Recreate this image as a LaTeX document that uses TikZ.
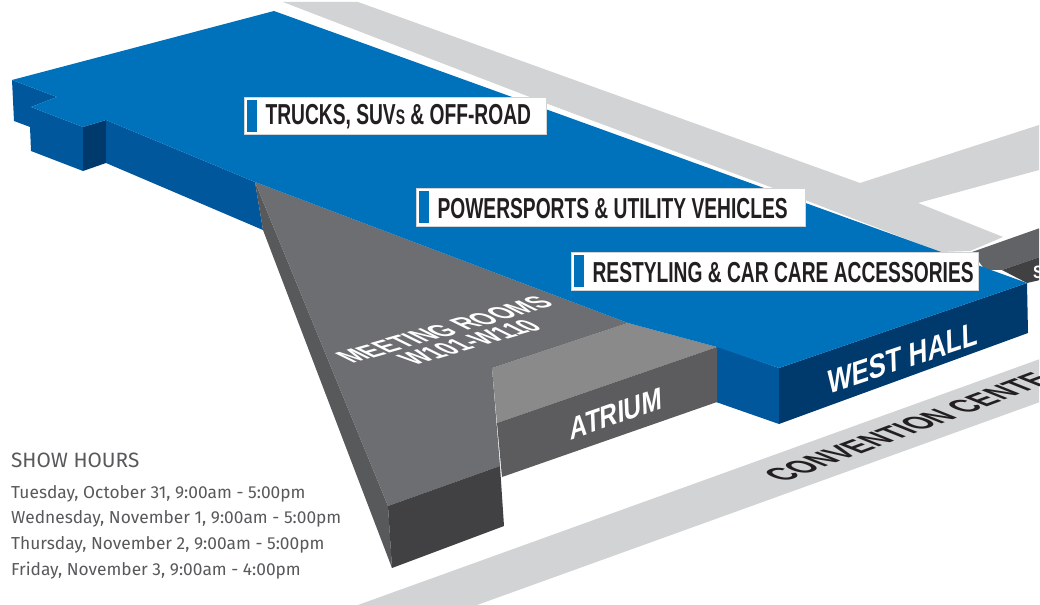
\documentclass[tikz,border=0pt]{standalone}
\usepackage{fontspec}
\usetikzlibrary{positioning}
\setmainfont{Liberation Sans}
\newfontfamily\tagfont[FakeStretch=0.665]{Liberation Sans Bold}
\newfontfamily\hallfont[FakeStretch=0.85]{Liberation Sans Bold}
\newfontfamily\hoursfont{Fira Sans}
\definecolor{HallBlue}{HTML}{0072BC}
\definecolor{HallSide}{HTML}{00579C}
\definecolor{HallDark}{HTML}{00396C}
\definecolor{RoadGrey}{HTML}{D1D3D4}
\definecolor{RoomTop}{HTML}{6D6E71}
\definecolor{RoomLeft}{HTML}{58595B}
\definecolor{RoomFront}{HTML}{414042}
\definecolor{AtriumTop}{HTML}{8A8A8B}
\definecolor{AtriumFront}{HTML}{5C5C5E}
\definecolor{TagInk}{HTML}{231F20}
\definecolor{HoursInk}{HTML}{58595B}
\tikzset{
  tagbox/.style={fill=white,draw=RoadGrey,line width=0.4pt,anchor=north west,inner sep=0pt},
  tagmark/.style={fill=HallBlue,anchor=west,minimum width=10,minimum height=32,inner sep=0pt},
  tagtext/.style={text=TagInk,anchor=west,inner sep=0pt,yshift=-1,font=\tagfont\fontsize{29}{29}\selectfont},
  halllabel/.style={text=white,inner sep=0pt,font=\hallfont\fontsize{32}{32}\selectfont},
  floorlabel/.style={text=white,inner sep=0pt,align=center,font=\hallfont\fontsize{21}{19}\selectfont},
}
\begin{document}
\begin{tikzpicture}[x=1bp,y=-1bp]
  \useasboundingbox (0,0) rectangle (1040,605);
  \fill[white] (0,0) rectangle (1040,605);
  \clip (0,0) rectangle (1039,605);
  \fill[RoadGrey] (283,2) -- (358,2) -- (860,183) -- (1039,125) -- (1039,170) -- (918,203)
    -- (1003,237) -- (970,251) -- (940,252) -- (800,198) -- (548,104) -- cycle;
  \fill[RoadGrey] (358,605) -- (1040,359) -- (1040,402) -- (477,605) -- cycle;
  \fill[RoomTop!90!black] (972,252) -- (1040,228) -- (1040,257) -- (1002,270) -- (985,270) -- cycle;
  \fill[RoomFront] (1002,270) -- (1040,257) -- (1040,280) -- (1027,283) -- cycle;
  \fill[HallSide] (12,80) -- (57,97) -- (31,107) -- (83,127) -- (83,171) -- (31,151)
    -- (30,127) -- (14,121) -- cycle;
  \fill[HallDark] (83,127) -- (106,120) -- (106,163) -- (83,171) -- cycle;
  \fill[HallSide] (106,120) -- (255,182) -- (263,230) -- (106,163) -- cycle;
  \fill[HallSide] (716,346) -- (779,368) -- (779,424) -- (716,402) -- cycle;
  \fill[HallDark] (779,368) -- (1027,283) -- (1028,333) -- (779,424) -- cycle;
  \fill[AtriumTop] (628,323) -- (717,347) -- (497,423) -- (492,368) -- cycle;
  \fill[AtriumFront] (717,347) -- (717,402) -- (502,477) -- (497,423) -- cycle;
  \fill[RoomLeft] (255,182) -- (388,506) -- (392,568) -- (263,230) -- cycle;
  \fill[RoomTop] (255,182) -- (628,323) -- (492,368) -- (500,466) -- (388,506) -- cycle;
  \fill[RoomFront] (388,506) -- (500,466) -- (504,526) -- (392,568) -- cycle;
  \fill[HallBlue] (12,80) -- (274,11) -- (1027,283) -- (779,368) -- (717,347) -- (628,323) -- (255,182)
    -- (106,120) -- (83,127) -- (31,107) -- (57,97) -- cycle;
  \node[tagbox,minimum width=303,minimum height=37] (trucks) at (244,97) {};
  \node[tagmark,right=3 of trucks.west] (trucksmark) {};
  \node[tagtext,right=8 of trucksmark.east] (truckstext)
    {TRUCKS, SUV{\fontsize{21}{21}\selectfont S} \& OFF-ROAD};
  \node[tagbox,minimum width=390,minimum height=38] (power) at (416,188) {};
  \node[tagmark,right=3 of power.west] (powermark) {};
  \node[tagtext,right=8 of powermark.east] (powertext) {POWERSPORTS \& UTILITY VEHICLES};
  \node[tagbox,minimum width=409,minimum height=38] (restyle) at (571,252) {};
  \node[tagmark,right=3 of restyle.west] (restylemark) {};
  \node[tagtext,right=8 of restylemark.east] (restyletext) {RESTYLING \& CAR CARE ACCESSORIES};
  \node[halllabel,rotate=18.5,xslant=0.3] (westhall) at (903,358) {WEST HALL};
  \node[halllabel,rotate=19,xslant=0.3,font=\hallfont\fontsize{30}{30}\selectfont] (atrium)
    at (616,414) {ATRIUM};
  \node[floorlabel,rotate=16,xslant=-1.1,xscale=1.38] (rooms) at (457,336) {MEETING ROOMS\\W101-W110};
  \node[rotate=20.5,xslant=-1.1,xscale=1.38,anchor=west,inner sep=0pt,text=TagInk,
    font=\hallfont\fontsize{24}{24}\selectfont] (convention) at (772,478) {CONVENTION CENTE};
  \node[halllabel,font=\hallfont\fontsize{18}{18}\selectfont,anchor=west] (southhall) at (1033,272) {S};
  \node[anchor=west,inner sep=0pt,text=HoursInk,font=\hoursfont\fontsize{20.8}{20.8}\selectfont] (showhours)
    at (11,460) {SHOW HOURS};
  \node[anchor=north west,inner sep=0pt,text=HoursInk,align=left,
    font=\hoursfont\fontsize{17.4}{25.8}\selectfont] (hours) at (11,485)
    {Tuesday, October 31, 9:00am - 5:00pm\\
     Wednesday, November 1, 9:00am - 5:00pm\\
     Thursday, November 2, 9:00am - 5:00pm\\
     Friday, November 3, 9:00am - 4:00pm};
\end{tikzpicture}
\end{document}
